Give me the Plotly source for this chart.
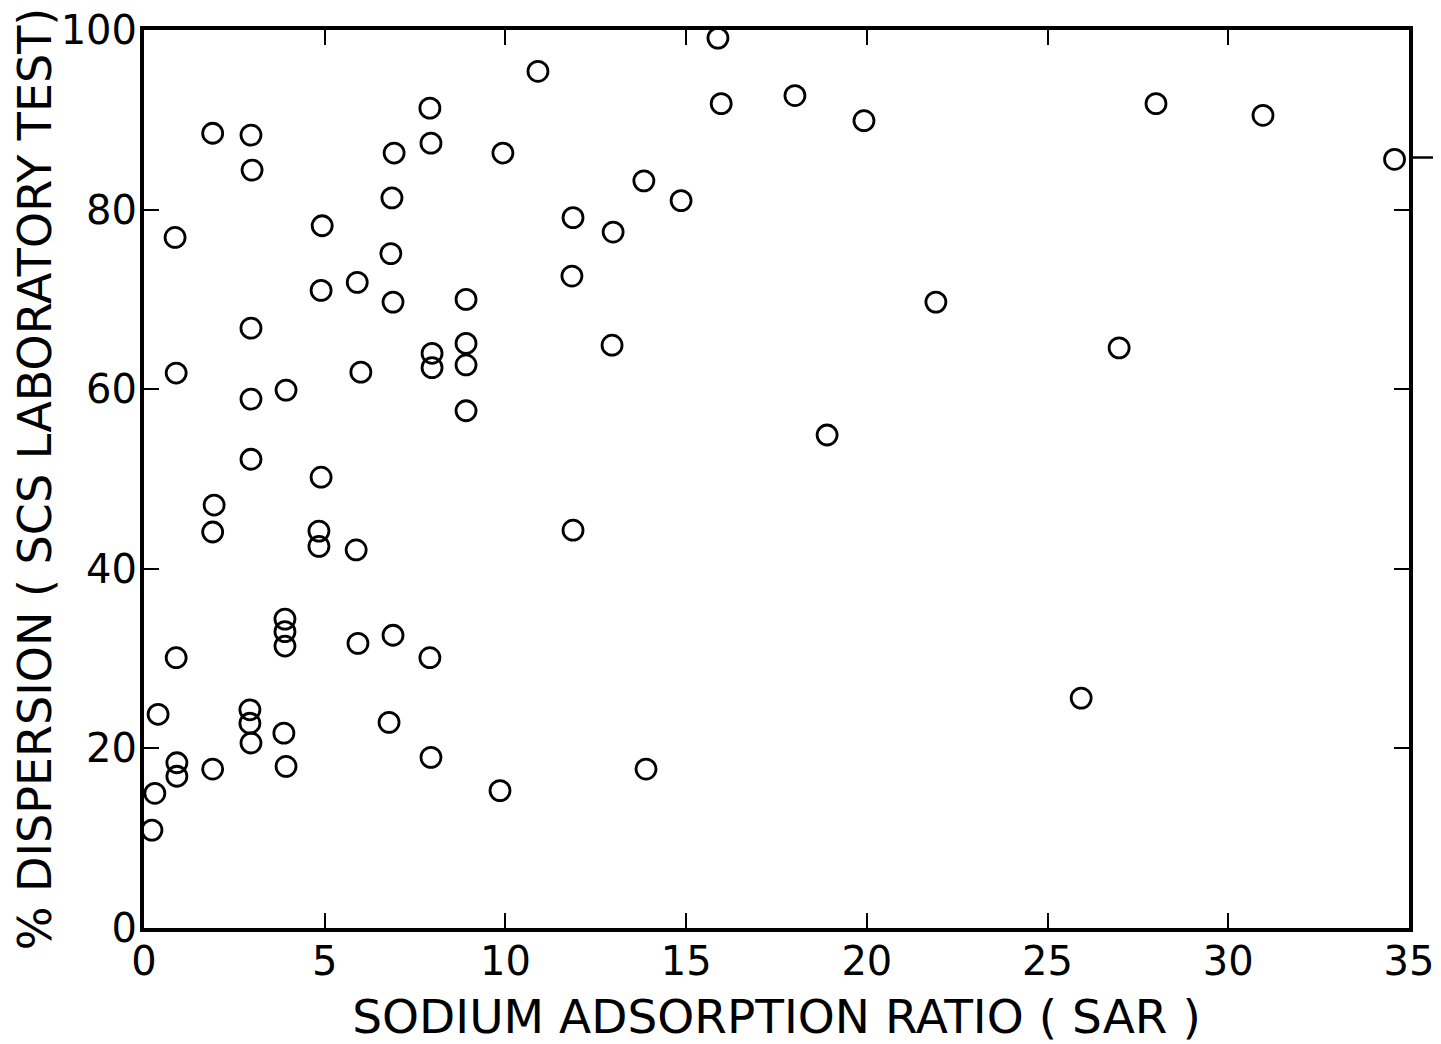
import plotly.graph_objects as go

sar = [0.22, 0.30, 0.39, 0.91, 0.91, 0.89, 0.89, 0.86,
       1.90, 1.90, 1.94, 1.90,
       2.96, 2.99, 2.96, 2.96, 2.96, 2.93, 2.93, 2.96,
       3.93, 3.90, 3.90, 3.90, 3.87, 3.93,
       4.93, 4.90, 4.90, 4.84, 4.84,
       5.90, 5.87, 6.00, 5.92,
       6.86, 6.83, 6.92, 6.89, 6.89, 6.78,
       7.91, 7.94, 7.97, 7.97, 7.91, 7.94,
       8.91, 8.91, 8.91, 8.91,
       9.93, 9.85, 10.90,
       11.87, 11.84, 11.87, 12.98, 12.95,
       13.83, 13.89, 14.86, 15.88, 15.97,
       18.01, 18.90, 19.92, 21.91, 25.93, 26.98, 28.00, 30.96, 34.60]

dispersion = [10.9, 15.0, 23.8, 16.9, 18.4, 30.1, 61.8, 76.9,
              17.7, 44.1, 47.1, 88.5,
              88.3, 84.4, 66.8, 58.9, 52.2, 24.3, 22.8, 20.6,
              59.9, 34.4, 33.0, 31.4, 21.7, 18.0,
              78.2, 71.0, 50.2, 44.2, 42.5,
              71.9, 42.1, 61.9, 31.7,
              81.3, 75.1, 86.3, 69.7, 32.6, 22.9,
              91.3, 87.4, 64.0, 62.4, 30.1, 19.0,
              70.0, 65.1, 62.7, 57.6,
              86.3, 15.3, 95.4,
              79.1, 72.6, 44.3, 77.5, 64.9,
              83.2, 17.7, 81.0, 99.1, 91.8,
              92.7, 54.9, 89.9, 69.7, 25.6, 64.6, 91.8, 90.5, 85.6]

x_ticks = [0, 5, 10, 15, 20, 25, 30, 35]
y_ticks = [0, 20, 40, 60, 80, 100]

FONT = "DejaVu Sans"

fig = go.Figure()
fig.add_trace(go.Scatter(
    x=sar, y=dispersion, mode="markers",
    marker=dict(symbol="circle-open", size=20, color="black",
                line=dict(width=2.8, color="black")),
    showlegend=False, cliponaxis=False,
))

axis_common = dict(
    showgrid=False, zeroline=False, showline=True, linecolor="black",
    linewidth=4, mirror="ticks", ticks="inside", ticklen=15, tickwidth=2,
    tickcolor="black", tickfont=dict(family=FONT, size=40, color="black"),
    ticklabeloverflow="allow", ticklabelstandoff=-5, automargin=False,
)

fig.update_layout(
    width=1433, height=1036,
    margin=dict(l=136, r=32, t=22, b=116),
    paper_bgcolor="white", plot_bgcolor="white",
    xaxis=dict(range=[0, 35], tickvals=x_ticks, ticktext=[str(v) for v in x_ticks],
               title=dict(text="SODIUM ADSORPTION RATIO ( SAR )",
                          font=dict(family=FONT, size=47, color="black"), standoff=19),
               **axis_common),
    yaxis=dict(range=[0, 100], tickvals=y_ticks, ticktext=[str(v) for v in y_ticks],
               title=dict(text="% DISPERSION ( SCS LABORATORY TEST)",
                          font=dict(family=FONT, size=46, color="black"), standoff=8),
               **axis_common),
)

fig.add_shape(type="line", xref="paper", yref="y", x0=1.0, x1=1.03, y0=85.8, y1=85.8,
              line=dict(color="black", width=2.5))

fig.write_html("out.html")
